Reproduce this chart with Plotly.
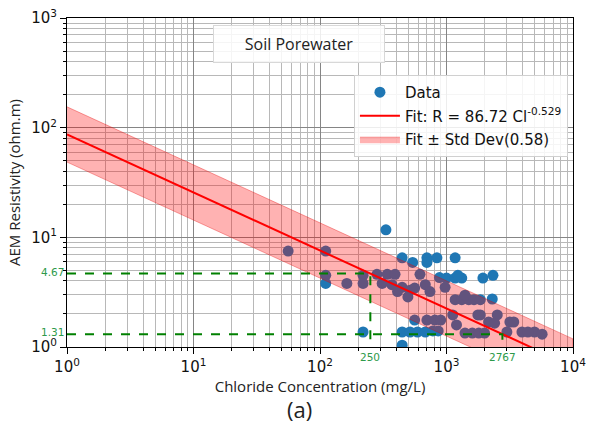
import math
import numpy as np
import plotly.graph_objects as go

# ---- data ----
chloride = [56, 111, 111, 111, 163, 219, 219, 219, 332, 282, 340, 392, 310, 370,
            446, 540, 700, 700, 840, 1170, 617, 446, 410, 515, 560, 495, 680, 740,
            880, 1000, 975, 1170, 1320, 1170, 1320, 1500, 1650, 1850, 1400, 2300,
            1940, 2330, 560, 700, 810, 900, 1120, 1200, 446, 515, 590, 680, 780,
            860, 446, 1770, 2150, 2520, 2400, 3170, 3400, 3000, 3950, 4960, 5700,
            1400, 1600, 1800, 2000, 4400, 1850, 1230]
resistivity = [7.5, 7.5, 4.5, 3.8, 3.8, 4.5, 3.8, 1.37, 11.7, 4.6, 4.6, 4.6, 3.8, 3.7,
               6.5, 5.9, 6.5, 5.9, 6.5, 6.5, 4.6, 3.5, 3.2, 3.3, 3.45, 2.86, 3.7, 3.2,
               4.3, 4.25, 3.5, 4.25, 4.25, 2.7, 2.7, 2.7, 2.7, 2.7, 2.97, 2.74,
               4.25, 4.5, 1.76, 1.76, 1.76, 1.76, 1.96, 1.59, 1.37, 1.37, 1.37, 1.37, 1.4,
               1.4, 1.04, 1.96, 1.69, 1.96, 1.65, 1.69, 1.69, 1.37, 1.37, 1.37, 1.31,
               1.34, 1.34, 1.34, 1.34, 1.37, 1.96, 4.5]

fit_a = 86.72
fit_b = -0.529
fit_std = 0.58
thresholds_r = [4.67, 1.31]
thresholds_cl = [250, 2767]

x_ticks = [1, 10, 100, 1000, 10000]
x_ticktext = ["10<sup>0</sup>", "10<sup>1</sup>", "10<sup>2</sup>", "10<sup>3</sup>", "10<sup>4</sup>"]
y_ticks = [1, 10, 100, 1000]
y_ticktext = ["10<sup>0</sup>", "10<sup>1</sup>", "10<sup>2</sup>", "10<sup>3</sup>"]

# ---- fit curve ----
xf = np.logspace(0, 4, 60)
yf = fit_a * xf ** fit_b
yu = yf * math.exp(fit_std)
yl = yf / math.exp(fit_std)

fig = go.Figure()
fig.add_trace(go.Scatter(
    x=chloride, y=resistivity, mode="markers", name="Data",
    marker=dict(color="#1f77b4", size=11, line=dict(width=0)),
    legendrank=1, legendgroup="a"))
fig.add_trace(go.Scatter(
    x=list(xf) + list(xf[::-1]), y=list(yu) + list(yl[::-1]),
    fill="toself", fillcolor="rgba(255,0,0,0.3)", mode="lines",
    line=dict(color="rgba(230,0,0,0.35)", width=1),
    name="Fit ± Std Dev(0.58)", legendrank=3, legendgroup="c"))
fig.add_trace(go.Scatter(
    x=xf, y=yf, mode="lines", line=dict(color="red", width=2),
    name="Fit: R = 86.72 Cl<sup>-0.529</sup>", legendrank=2, legendgroup="b"))

# threshold dashed lines
for r, c in zip(thresholds_r, thresholds_cl):
    fig.add_trace(go.Scatter(x=[1, c, c], y=[r, r, 1], mode="lines",
                             line=dict(color="green", width=2, dash="dash"),
                             showlegend=False, hoverinfo="skip"))
    fig.add_annotation(x=0, xref="paper", y=math.log10(r), yref="y",
                       text=f"{r:.2f}", showarrow=False, xanchor="right",
                       xshift=-1, yshift=2,
                       font=dict(size=10.5, color="#2e9a4a", family="DejaVu Sans"))
    fig.add_annotation(x=math.log10(c), xref="x", y=0, yref="paper",
                       text=str(c), showarrow=False, yanchor="top", yshift=-2,
                       font=dict(size=10.5, color="#2e9a4a", family="DejaVu Sans"))

# title box
fig.add_annotation(x=0.4585, xref="paper", y=0.921, yref="paper",
                   xanchor="center", yanchor="middle",
                   text="Soil Porewater", showarrow=False,
                   font=dict(size=16, color="#222", family="Open Sans"),
                   bgcolor="rgba(255,255,255,0.85)", bordercolor="#d8d8d8",
                   borderwidth=1, width=166, height=32, borderpad=2)

# subplot label
fig.add_annotation(x=0.4585, xref="paper", y=-0.188, yref="paper",
                   text="(a)", showarrow=False, yanchor="middle", xanchor="center",
                   font=dict(size=22, color="#222", family="Open Sans"))

minor_vals = [k * 10 ** n for n in range(0, 4) for k in range(2, 10)]

axis_common = dict(type="log", showline=True, linecolor="black", linewidth=1,
                   mirror=True, ticks="outside", ticklen=6, tickcolor="black",
                   showgrid=True, gridcolor="#858585", gridwidth=1, zeroline=False,
                   automargin=False,
                   tickfont=dict(size=15, color="#111", family="DejaVu Sans"))

fig.update_xaxes(range=[0, 4], tickmode="array", tickvals=x_ticks, ticktext=x_ticktext,
                 title=dict(text="Chloride Concentration (mg/L)", standoff=0,
                            font=dict(size=15, color="#222", family="Open Sans")),
                 minor=dict(tickmode="array", tickvals=minor_vals, ticks="outside",
                            ticklen=3, tickcolor="black", showgrid=True,
                            gridcolor="#b8b8b8", gridwidth=1),
                 **axis_common)
fig.update_yaxes(range=[0, 3], tickmode="array", tickvals=y_ticks, ticktext=y_ticktext,
                 title=dict(text="AEM Resistivity (ohm.m)", standoff=6,
                            font=dict(size=15, color="#222", family="Open Sans")),
                 minor=dict(tickmode="array", tickvals=minor_vals[:24], ticks="outside",
                            ticklen=3, tickcolor="black", showgrid=True,
                            gridcolor="#b8b8b8", gridwidth=1),
                 **axis_common)

fig.update_layout(
    width=589, height=425,
    margin=dict(l=67, r=16, t=18, b=78),
    plot_bgcolor="white", paper_bgcolor="white",
    showlegend=True,
    legend=dict(x=0.99, y=0.827, xanchor="right", yanchor="top",
                bgcolor="rgba(255,255,255,0.85)", bordercolor="#d0d0d0", borderwidth=1,
                font=dict(size=15, color="#111", family="DejaVu Sans"),
                itemwidth=40, tracegroupgap=1),
)

fig.write_html("out.html")
